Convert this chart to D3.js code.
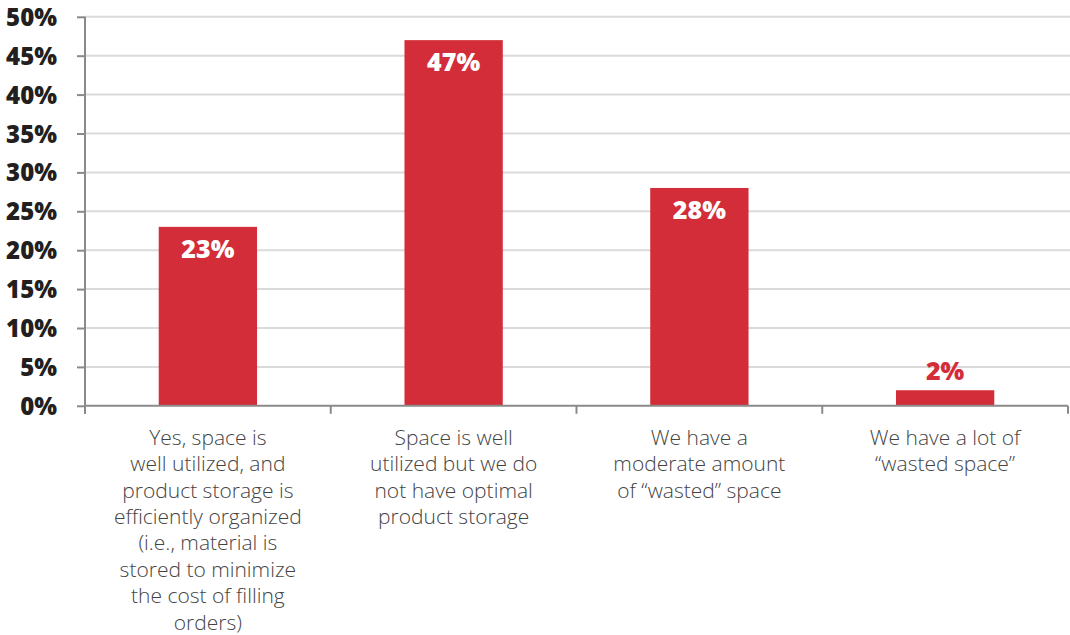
<!DOCTYPE html>
<html>
<head>
<meta charset="utf-8">
<script src="https://cdn.jsdelivr.net/npm/d3@7"></script>
<style>
  html, body { margin: 0; padding: 0; background: #fff; }
  svg { display: block; }
</style>
</head>
<body>
<svg id="chart" width="1070" height="635"></svg>
<script>
// Survey responses: how well is warehouse space utilized?
const categories = [
  "Yes, space is well utilized, and product storage is efficiently organized (i.e., material is stored to minimize the cost of filling orders)",
  "Space is well utilized but we do not have optimal product storage",
  "We have a moderate amount of “wasted” space",
  "We have a lot of “wasted space”"
];
const categoryLines = [
  ["Yes, space is", "well utilized, and", "product storage is", "efficiently organized", "(i.e., material is", "stored to minimize", "the cost of filling", "orders)"],
  ["Space is well", "utilized but we do", "not have optimal", "product storage"],
  ["We have a", "moderate amount", "of “wasted” space"],
  ["We have a lot of", "“wasted space”"]
];
const values = [23, 47, 28, 2];
const yTicks = [0, 5, 10, 15, 20, 25, 30, 35, 40, 45, 50];

const RED = "#d22d39";
const svg = d3.select("#chart");
const plotLeft = 85, plotRight = 1068, plotTop = 16.8, plotBottom = 405.8;

const x = d3.scaleBand().domain(categories).range([plotLeft, plotRight]).paddingInner(0.6).paddingOuter(0.3);
const y = d3.scaleLinear().domain([0, 50]).range([plotBottom, plotTop]);

// horizontal gridlines
svg.append("g").selectAll("line").data(yTicks.filter(d => d > 0)).join("line")
  .attr("x1", plotLeft).attr("x2", 1070)
  .attr("y1", d => y(d)).attr("y2", d => y(d))
  .attr("stroke", "#dadada").attr("stroke-width", 2);

// bars
svg.append("g").selectAll("rect").data(values).join("rect")
  .attr("x", (d, i) => x(categories[i]))
  .attr("width", x.bandwidth())
  .attr("y", d => y(d))
  .attr("height", d => y(0) - y(d))
  .attr("fill", RED);

// y axis
const yAxis = svg.append("g").attr("transform", `translate(${plotLeft},0)`)
  .call(d3.axisLeft(y).tickValues(yTicks).tickSize(8).tickPadding(20).tickFormat(d => d + "%"));
yAxis.select(".domain").attr("stroke", "#8a8a8a").attr("stroke-width", 2)
  .attr("d", `M0,${plotTop}V${plotBottom + 8}`);
yAxis.selectAll(".tick line").attr("stroke", "#8a8a8a").attr("stroke-width", 2);
yAxis.selectAll(".tick text")
  .attr("fill", "#231f20")
  .style("font-family", "'Open Sans', sans-serif")
  .style("font-weight", "800")
  .style("font-size", "24px")
  .attr("dy", null).attr("y", 8.5);

// x axis: baseline with ticks at band boundaries
const bounds = categories.map(c => x(c) - x.step() * x.paddingInner() / 2).concat([plotRight]);
bounds[0] = plotLeft;
svg.append("line").attr("x1", plotLeft).attr("x2", plotRight).attr("y1", plotBottom).attr("y2", plotBottom)
  .attr("stroke", "#8a8a8a").attr("stroke-width", 2);
svg.append("g").selectAll("line").data(bounds).join("line")
  .attr("x1", d => d).attr("x2", d => d)
  .attr("y1", plotBottom).attr("y2", plotBottom + 8)
  .attr("stroke", "#8a8a8a").attr("stroke-width", 2);

// category labels
const catG = svg.append("g");
categoryLines.forEach((lines, i) => {
  const cx = x(categories[i]) + x.bandwidth() / 2;
  const t = catG.append("text")
    .attr("x", cx)
    .attr("y", plotBottom + 39)
    .attr("text-anchor", "middle")
    .attr("fill", "#444")
    .style("font-family", "'Open Sans', sans-serif")
    .style("font-weight", "300")
    .style("font-size", "21px");
  lines.forEach((ln, j) => {
    t.append("tspan").attr("x", cx).attr("dy", j === 0 ? 0 : 26.4).text(ln);
  });
});

// value labels
svg.append("g").selectAll("text").data(values).join("text")
  .attr("x", (d, i) => x(categories[i]) + x.bandwidth() / 2)
  .attr("y", d => d < 5 ? y(d) - 10 : y(d) + 31)
  .attr("text-anchor", "middle")
  .attr("fill", d => d < 5 ? RED : "#fff")
  .style("font-family", "'Open Sans', sans-serif")
  .style("font-weight", "800")
  .style("font-size", "25px")
  .text(d => d + "%");
</script>
</body>
</html>
